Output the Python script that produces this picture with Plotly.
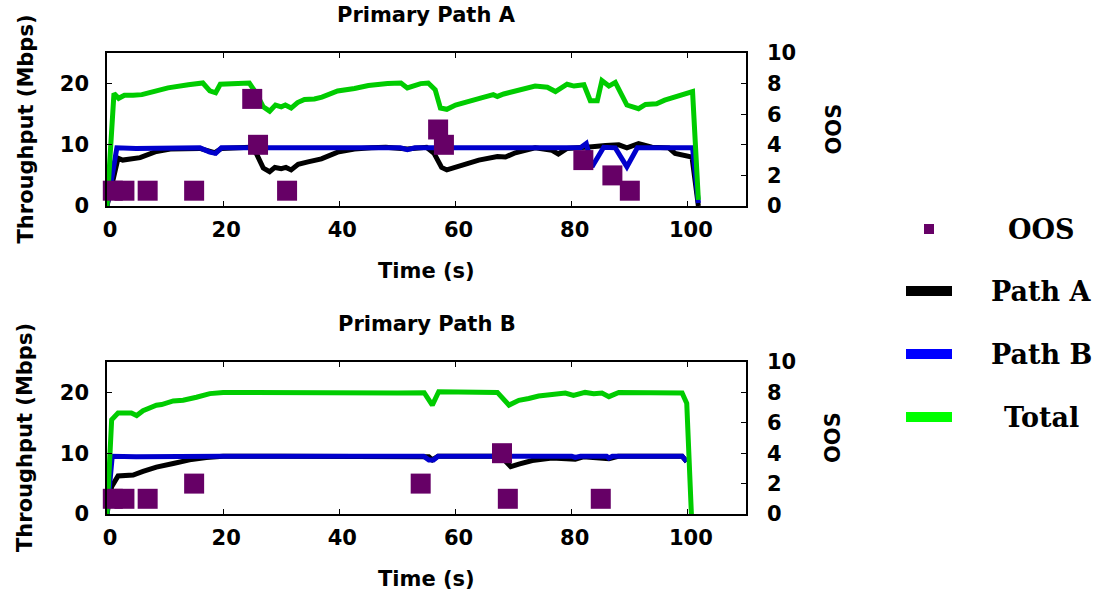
import plotly.graph_objects as go

# ---------------- data ----------------
# Primary Path A run
a_total_t = [0, 1.2, 2, 3, 4.5, 6, 8, 10.5, 14, 16.5, 17.7, 18.7, 19.5, 22, 24.5, 25.7, 26.9, 28, 29, 30,
             30.7, 31.7, 32.8, 34, 35.7, 37, 38, 39.7, 42.6, 45, 48.3, 50.6, 51.7, 54, 55.3, 56.5, 57.4,
             58.5, 60, 62.3, 64.6, 66.5, 67.2, 68.3, 70.3, 73.7, 75.8, 77.2, 79.2, 80.4, 82.1, 83.2, 84.4,
             85.2, 86.4, 87.5, 89.5, 91.5, 92.7, 94.6, 96, 98.3, 100.8, 101.8]
a_total_v = [0, 18.4, 17.6, 18.1, 18.1, 18.2, 18.7, 19.3, 19.8, 20.1, 18.8, 18.5, 19.9, 19.9, 20.1, 18.4,
             16.2, 15.5, 16.5, 16.2, 16.5, 16.0, 16.9, 17.4, 17.5, 17.8, 18.1, 18.8, 19.2, 19.7, 20.0, 20.1,
             19.3, 20.0, 20.1, 19.0, 16.0, 15.8, 16.5, 17.0, 17.7, 18.2, 17.9, 18.3, 18.8, 19.6, 19.4, 18.7,
             19.9, 19.6, 19.8, 17.2, 17.2, 20.5, 19.6, 20.2, 16.5, 15.9, 16.6, 16.7, 17.3, 17.9, 18.7, 1.0]

a_pathA_t = [0, 1.9, 2.7, 5.7, 8.5, 10.9, 16, 17.7, 18.5, 19.7, 24.5, 25.7, 26.9, 28, 28.9, 30, 30.8, 31.7,
             32.9, 34.6, 36.9, 39.7, 42.6, 45.5, 48, 51.7, 55, 56.3, 57.6, 58.5, 60.6, 64, 67.2, 68.6, 70.3,
             73.7, 76.6, 77.7, 79.2, 81.8, 83.5, 85.8, 88.1, 89.5, 91.5, 93.8, 96.7, 97.8, 99, 100.7, 101.8]
a_pathA_v = [0, 7.8, 7.5, 7.9, 8.9, 9.3, 9.4, 8.8, 8.7, 9.4, 9.6, 8.6, 6.2, 5.6, 6.3, 6.1, 6.3, 5.9,
             6.8, 7.2, 7.7, 8.8, 9.3, 9.5, 9.6, 9.3, 9.6, 8.6, 6.3, 5.9, 6.5, 7.5, 8.1, 8.0, 8.7,
             9.5, 9.1, 8.5, 9.4, 9.5, 9.7, 9.9, 10.0, 9.5, 10.2, 9.6, 9.5, 8.6, 8.3, 8.0, 0]

a_pathB_t = [0, 1.7, 5, 16, 17.7, 18.7, 19.7, 50.5, 51.7, 53, 81.5, 82.5, 83.5, 85.5, 87.5, 89.5, 91.3,
             100.8, 101.8]
a_pathB_v = [0, 9.5, 9.4, 9.5, 8.8, 8.6, 9.5, 9.5, 9.2, 9.5, 9.5, 10.2, 6.4, 9.6, 9.5, 6.4, 9.5,
             9.5, 0.5]

a_oos_t = [1, 3, 7, 15, 25, 26, 31, 57, 58, 82, 87, 90]
a_oos_v = [1, 1, 1, 1, 7, 4, 1, 5, 4, 3, 2, 1]

# Primary Path B run
b_total_t = [0, 0.8, 1.9, 4.2, 5.1, 6.2, 8.5, 9.4, 11.4, 13.1, 15.4, 17.7, 20, 30, 40, 50, 54.6, 56,
             57.1, 67.2, 69.2, 70.9, 72.6, 74.3, 78.9, 80.3, 82.3, 83.8, 85.2, 86.4, 88.1, 99, 99.8, 100.6]
b_total_v = [0, 15.5, 16.6, 16.6, 16.2, 17.0, 17.9, 18.0, 18.6, 18.7, 19.2, 19.8, 20.0, 19.9, 20.0, 19.9,
             19.95, 17.9, 20.1, 20.0, 17.9, 18.7, 19.0, 19.4, 19.9, 19.5, 20.0, 19.8, 19.9, 19.3, 20.0,
             19.9, 18.2, 0]

b_pathA_t = [0, 0.8, 1.9, 4.5, 6.2, 8.5, 11.4, 14.2, 17.1, 20, 30, 55.4, 56, 57, 67.8, 68.6, 69.5,
             70.9, 73.2, 76.6, 80.6, 82, 86.4, 88, 99, 99.8]
b_pathA_v = [0, 4.5, 6.25, 6.4, 7.0, 7.7, 8.3, 8.9, 9.3, 9.5, 9.5, 9.4, 8.9, 9.5, 9.5, 8.6, 7.8,
             8.2, 8.8, 9.2, 9.0, 9.4, 9.1, 9.5, 9.5, 8.6]

b_pathB_t = [0, 0.9, 5, 20, 54.5, 55.4, 56.2, 57, 80, 80.6, 81.5, 86, 86.4, 87, 99, 99.8]
b_pathB_v = [0, 9.5, 9.4, 9.5, 9.5, 8.9, 8.9, 9.5, 9.5, 9.3, 9.5, 9.5, 9.2, 9.5, 9.5, 8.6]

b_oos_t = [1, 3, 7, 15, 54, 68, 69, 85]
b_oos_v = [1, 1, 1, 2, 2, 4, 1, 1]

x_ticks = [0, 20, 40, 60, 80, 100]
y_ticks = [0, 10, 20]
oos_ticks = [0, 2, 4, 6, 8, 10]

legend_labels = ["OOS", "Path A", "Path B", "Total"]

# ---------------- style ----------------
W, H = 1105, 596
C_A, C_B, C_TOT, C_OOS = "#000000", "#0000cc", "#00cc00", "#660066"
LEG_COLORS = ["#660066", "#000000", "#0000ff", "#00ff00"]
SANS = "DejaVu Sans"
SERIF = "DejaVu Serif"
LW = 5


def px_x(p):
    return p / W


def px_y(p):
    return 1 - p / H


# plot boxes in pixels: (left, right, top, bottom)
BOX_TOP = (107, 746, 53, 206)
BOX_BOT = (107, 746, 362, 514)

fig = go.Figure()


def add_panel(xa, ya, ya2, tot_t, tot_v, pa_t, pa_v, pb_t, pb_v, oos_t, oos_v):
    fig.add_trace(go.Scatter(x=pa_t, y=pa_v, mode="lines", line=dict(color=C_A, width=LW),
                             xaxis=xa, yaxis=ya, showlegend=False))
    fig.add_trace(go.Scatter(x=pb_t, y=pb_v, mode="lines", line=dict(color=C_B, width=LW),
                             xaxis=xa, yaxis=ya, showlegend=False))
    fig.add_trace(go.Scatter(x=tot_t, y=tot_v, mode="lines", line=dict(color=C_TOT, width=LW),
                             xaxis=xa, yaxis=ya, showlegend=False))
    fig.add_trace(go.Scatter(x=oos_t, y=oos_v, mode="markers",
                             marker=dict(symbol="square", size=20, color=C_OOS, line=dict(width=0)),
                             xaxis=xa, yaxis=ya2, showlegend=False, cliponaxis=False))


add_panel("x", "y", "y2", a_total_t, a_total_v, a_pathA_t, a_pathA_v, a_pathB_t, a_pathB_v,
          a_oos_t, a_oos_v)
add_panel("x2", "y3", "y4", b_total_t, b_total_v, b_pathA_t, b_pathA_v, b_pathB_t, b_pathB_v,
          b_oos_t, b_oos_v)

tick_font = dict(family=SANS, size=21, color="black", weight="bold")


def xaxis_cfg(box, anchor):
    return dict(domain=[px_x(box[0]), px_x(box[1])], anchor=anchor, range=[0, 110],
                tickvals=x_ticks, ticks="inside", ticklen=5, tickwidth=1, tickcolor="black",
                showline=True, linecolor="black", linewidth=1.5, mirror="ticks",
                showgrid=False, zeroline=False, tickfont=tick_font, ticklabelstandoff=4,
                ticklabelshift=3, automargin=False)


def yaxis_cfg(box, anchor):
    return dict(domain=[px_y(box[3]), px_y(box[2])], anchor=anchor, range=[0, 25],
                tickvals=y_ticks, ticks="inside", ticklen=5, tickwidth=1, tickcolor="black",
                showline=True, linecolor="black", linewidth=1.5, mirror=True,
                showgrid=False, zeroline=False, tickfont=tick_font, ticklabelstandoff=12,
                automargin=False)


def y2_cfg(over, anchor):
    return dict(overlaying=over, side="right", anchor=anchor, range=[0, 10],
                tickvals=oos_ticks, ticks="inside", ticklen=5, tickwidth=1, tickcolor="black",
                showline=False, showgrid=False, zeroline=False, tickfont=tick_font,
                ticklabelstandoff=20, automargin=False)


fig.update_layout(
    width=W, height=H, margin=dict(l=0, r=0, t=0, b=0, autoexpand=False),
    paper_bgcolor="white", plot_bgcolor="white", showlegend=False,
    xaxis=xaxis_cfg(BOX_TOP, "y"),
    yaxis=yaxis_cfg(BOX_TOP, "x"),
    yaxis2=y2_cfg("y", "x"),
    xaxis2=xaxis_cfg(BOX_BOT, "y3"),
    yaxis3=yaxis_cfg(BOX_BOT, "x2"),
    yaxis4=y2_cfg("y3", "x2"),
)

title_font = dict(family=SANS, size=21, color="black", weight="bold")
annotations = []


def add_text(text, x, y, font, angle=0):
    annotations.append(dict(text=text, x=px_x(x), y=px_y(y), xref="paper", yref="paper",
                            xanchor="center", yanchor="middle", showarrow=False,
                            font=font, textangle=angle))


for box, name in ((BOX_TOP, "Primary Path A"), (BOX_BOT, "Primary Path B")):
    cx = (box[0] + box[1]) / 2
    cy = (box[2] + box[3]) / 2
    add_text(name, cx, box[2] - 38, title_font)
    add_text("Time (s)", cx, box[3] + 65, title_font)
    add_text("Throughput (Mbps)", 25, cy, title_font, -90)
    add_text("OOS", 833, cy, title_font, -90)

# legend block
leg_font = dict(family=SERIF, size=27, color="black", weight="bold")
leg_rows = [229, 291, 354, 417]
shapes = []
for i, (lab, yy) in enumerate(zip(legend_labels, leg_rows)):
    add_text(lab, 1041, yy, leg_font)
    if i == 0:
        shapes.append(dict(type="rect", xref="paper", yref="paper",
                           x0=px_x(924), x1=px_x(934), y0=px_y(234), y1=px_y(224),
                           fillcolor=LEG_COLORS[i], line=dict(width=0)))
    else:
        shapes.append(dict(type="line", xref="paper", yref="paper",
                           x0=px_x(906), x1=px_x(952), y0=px_y(yy), y1=px_y(yy),
                           line=dict(color=LEG_COLORS[i], width=10)))

fig.update_layout(annotations=annotations, shapes=shapes)

fig.write_html("out.html")
